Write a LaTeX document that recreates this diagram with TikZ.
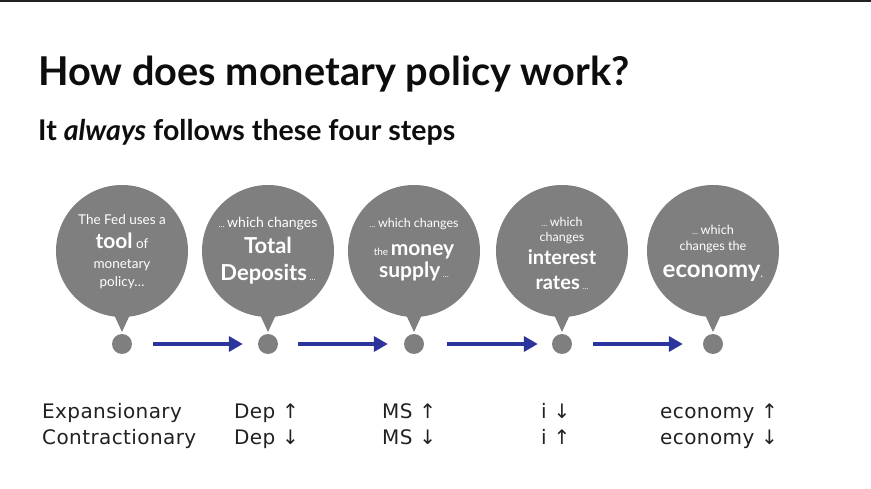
\documentclass[tikz,border=0pt]{standalone}
\usepackage{fontspec}
\setmainfont{Lato}
\newfontfamily\tabfont[LetterSpace=2]{DejaVu Sans}
\usetikzlibrary{arrows.meta}
\definecolor{bubblegray}{RGB}{127,127,127}
\definecolor{arrowblue}{RGB}{43,52,155}
\definecolor{rulegray}{RGB}{34,34,34}
\newcommand{\fsz}[1]{\fontsize{#1}{#1}\selectfont}
\begin{document}
\begin{tikzpicture}[x=1pt,y=-1pt,
  bubble/.style={circle, fill=bubblegray, minimum size=132pt, inner sep=0pt},
  dotnode/.style={circle, fill=bubblegray, minimum size=20pt, inner sep=0pt},
  btext/.style={text=white, anchor=base, inner sep=0pt},
  flow/.style={draw=arrowblue, line width=3.5pt, -{Triangle[length=14pt,width=15pt]}},
  tabtext/.style={anchor=base west, inner sep=0pt, font=\tabfont\fsz{20}, text=black!87},
  pointer/.style={fill=bubblegray}]
\useasboundingbox (0,0) rectangle (871,489);
\fill[rulegray] (0,0) rectangle (871,2);

% titles
\node[anchor=base west, inner sep=0pt, font=\bfseries\fsz{39.7}, text=black!95] (title) at (38,86) {How does monetary policy work?};
\node[anchor=base west, inner sep=0pt, font=\bfseries\fsz{28.5}, text=black!95] (subtitle) at (38,141) {It \textit{always} follows these four steps};

% bubbles
\foreach \i/\x in {1/122,2/268,3/414,4/562,5/713}{
  \node[bubble] (c\i) at (\x,251) {};
  \fill[pointer] (c\i.center) ++(-12,55) -- ++(12,26) -- ++(12,-26) -- cycle;
  \node[dotnode] (d\i) at (\x,344) {};
}

% bubble 1
\node[btext, font=\fsz{13.5}] (t1a) at (122,225) {The Fed uses a};
\node[btext] (t1b) at (122,249) {{\bfseries\fsz{21}tool}{\fsz{13.5} of}};
\node[btext, font=\fsz{13.5}] (t1c) at (122,269) {monetary};
\node[btext, font=\fsz{13.5}] (t1d) at (122,287) {policy…};

% bubble 2
\node[btext] (t2a) at (268,228) {{\fsz{8}…} {\fsz{14}which changes}};
\node[btext, font=\bfseries\fsz{22}] (t2b) at (268,254) {Total};
\node[btext] (t2c) at (268,281) {{\bfseries\fsz{22}Deposits} {\fsz{8}…}};

% bubble 3
\node[btext] (t3a) at (414,228) {{\fsz{8}…} {\fsz{12.5}which changes}};
\node[btext] (t3b) at (414,256) {{\fsz{10}the} {\bfseries\fsz{21}money}};
\node[btext] (t3c) at (414,278) {{\bfseries\fsz{21}supply} {\fsz{8}…}};

% bubble 4
\node[btext] (t4a) at (562,227) {{\fsz{8}…} {\fsz{12.5}which}};
\node[btext, font=\fsz{12.5}] (t4b) at (562,242) {changes};
\node[btext, font=\bfseries\fsz{20}] (t4c) at (562,265) {interest};
\node[btext] (t4d) at (562,290) {{\bfseries\fsz{20}rates} {\fsz{8}…}};

% bubble 5
\node[btext] (t5a) at (713,235) {{\fsz{8}…} {\fsz{12.7}which}};
\node[btext, font=\fsz{12.7}] (t5b) at (713,251) {changes the};
\node[btext] (t5c) at (713,278) {{\bfseries\fsz{24}economy}{\fsz{12}.}};

% arrows
\draw[flow, shorten <=21pt, shorten >=15pt] (d1) -- (d2);
\draw[flow, shorten <=20pt, shorten >=16pt] (d2) -- (d3);
\draw[flow, shorten <=23pt, shorten >=14pt] (d3) -- (d4);
\draw[flow, shorten <=21pt, shorten >=20pt] (d4) -- (d5);

% table
\node[tabtext] (e0) at (42,418) {Expansionary};
\node[tabtext] (e1) at (234,418) {Dep ↑};
\node[tabtext] (e2) at (382,418) {MS ↑};
\node[tabtext] (e3) at (541,418) {i ↓};
\node[tabtext] (e4) at (660,418) {economy ↑};
\node[tabtext] (k0) at (42,444) {Contractionary};
\node[tabtext] (k1) at (234,444) {Dep ↓};
\node[tabtext] (k2) at (382,444) {MS ↓};
\node[tabtext] (k3) at (541,444) {i ↑};
\node[tabtext] (k4) at (660,444) {economy ↓};
\end{tikzpicture}
\end{document}
